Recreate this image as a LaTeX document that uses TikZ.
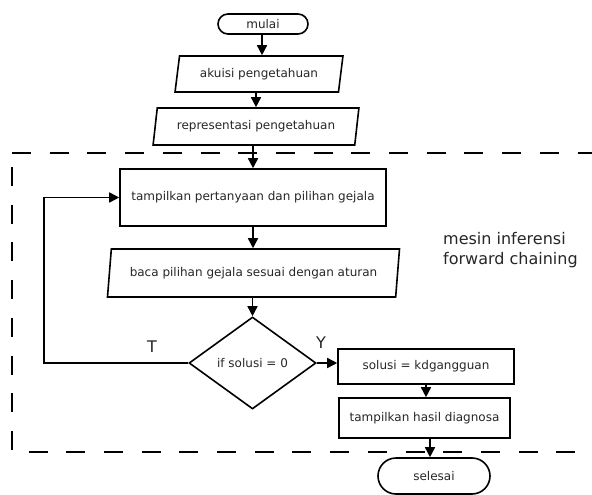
\documentclass[tikz,border=0pt]{standalone}
\usepackage{fontspec}
\setmainfont{DejaVu Sans}
\usetikzlibrary{shapes.geometric,shapes.misc,arrows.meta}
\begin{document}
\begin{tikzpicture}[x=1pt,y=-1pt,
  base/.style={draw=black,line width=1.6pt,inner sep=0pt,font=\fontsize{12}{14}\selectfont,text=black!85},
  term/.style={base,rounded rectangle},
  io/.style={base,trapezium,trapezium left angle=74,trapezium right angle=106,trapezium stretches=true},
  proc/.style={base,rectangle},
  dec/.style={base,diamond},
  arr/.style={line width=1.6pt,-{Triangle[length=10pt,width=10pt]}},
  bnd/.style={line width=1.6pt,dash pattern=on 19pt off 18.7pt},
  lab/.style={font=\fontsize{16}{20}\selectfont,text=black!85,inner sep=0pt}]
\useasboundingbox (0,0) rectangle (592,495);

\node[term,minimum width=90pt,minimum height=20pt] (mulai) at (263,24) {mulai};
\node[io,minimum width=168pt,minimum height=36pt] (akuisi) at (259,74) {akuisi pengetahuan};
\node[io,minimum width=206pt,minimum height=37pt] (repr) at (256,126.5) {representasi pengetahuan};
\node[proc,minimum width=266pt,minimum height=57pt] (tamp) at (253,197.5) {tampilkan pertanyaan dan pilihan gejala};
\node[io,minimum width=293pt,minimum height=48pt] (baca) at (253.5,273) {baca pilihan gejala sesuai dengan aturan};
\node[dec,minimum width=127pt,minimum height=92pt] (dia) at (252.5,363) {if solusi = 0};
\node[proc,minimum width=176pt,minimum height=35pt] (sol) at (426,366.5) {solusi = kdgangguan};
\node[proc,minimum width=171pt,minimum height=40pt] (hasil) at (424.5,418) {tampilkan hasil diagnosa};
\node[term,minimum width=112pt,minimum height=36pt] (selesai) at (434,476) {selesai};

\node[lab,anchor=west,align=left] (mesin) at (443,250) {mesin inferensi\\forward chaining};
\node[lab] (tl) at (152,347) {T};
\node[lab] (yl) at (321,343) {Y};

\draw[arr] ([xshift=-1pt]mulai.south) -- ([xshift=-1pt]mulai.south |- akuisi.north);
\draw[arr] ([xshift=-3pt]akuisi.south) -- ([xshift=-3pt]akuisi.south |- repr.north);
\draw[arr] ([xshift=-3pt]repr.south) -- ([xshift=-3pt]repr.south |- tamp.north);
\draw[arr] (tamp.south) -- (tamp.south |- baca.north);
\draw[arr] (dia.north |- baca.south) -- (dia.north);
\coordinate (lp) at (44,363);
\draw[arr] (dia.west) -- (lp) |- (tamp.west);
\draw[arr] (dia.east) -- (dia.east -| sol.west);
\draw[arr] (sol.south) -- (sol.south |- hasil.north);
\draw[arr] ([xshift=5.5pt]hasil.south) -- ([xshift=5.5pt]hasil.south |- selesai.north);

\coordinate (b1) at (12,153);
\coordinate (b2) at (592,153);
\coordinate (b3) at (12,167);
\coordinate (b4) at (12,450);
\coordinate (b5) at (28.5,452);
\coordinate (b6) at (592,452);
\draw[bnd] (b1) -- (b2);
\draw[bnd] (b3) -- (b4);
\draw[bnd] (b5) -- (b6);
\end{tikzpicture}
\end{document}
